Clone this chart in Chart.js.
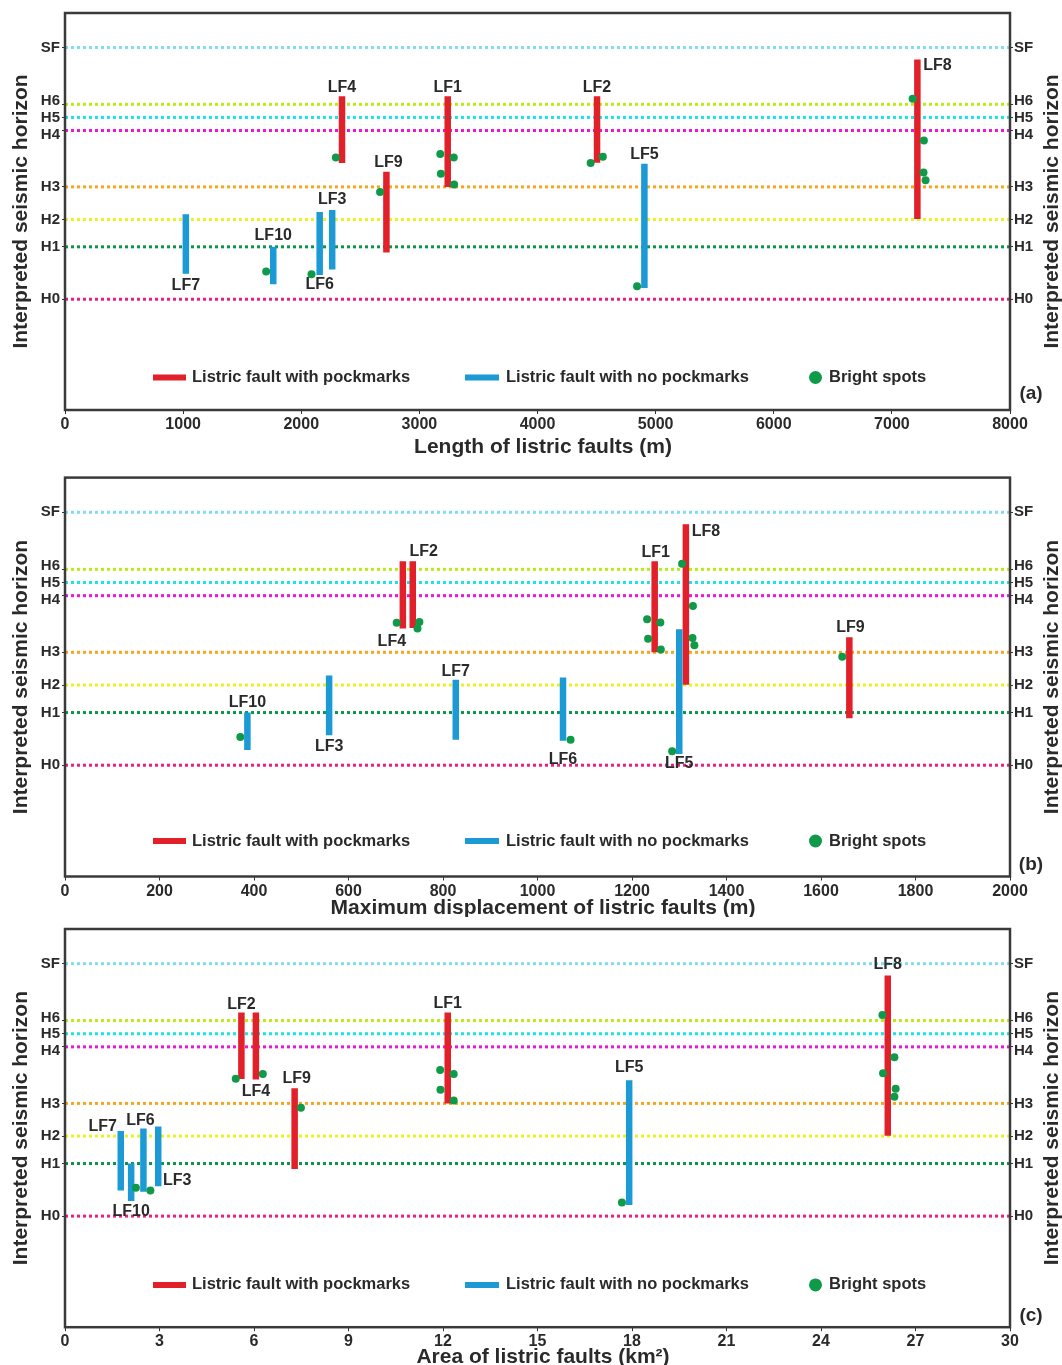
<!DOCTYPE html>
<html>
<head>
<meta charset="utf-8">
<title>Listric faults vs interpreted seismic horizons</title>
<script src="https://cdn.jsdelivr.net/npm/chart.js@4.4.1/dist/chart.umd.min.js"></script>
<style>
  html, body { margin: 0; padding: 0; background: #fff; }
  #wrap { position: relative; width: 1062px; height: 1365px; overflow: hidden; }
  #wrap canvas { position: absolute; left: 0; }
</style>
</head>
<body>
<div id="wrap">
  <canvas id="chartA" width="1062" height="462" style="top:0px;width:1062px;height:462px"></canvas>
  <canvas id="chartB" width="1062" height="455" style="top:462px;width:1062px;height:455px"></canvas>
  <canvas id="chartC" width="1062" height="448" style="top:917px;width:1062px;height:448px"></canvas>
</div>
<script>
// Horizons (relative depth position on the vertical axis, 0 = bottom, 100 = top)
const horizonNames = ['H0', 'H1', 'H2', 'H3', 'H4', 'H5', 'H6', 'SF'];
const horizonLevels = [27.9, 41.1, 48.0, 56.2, 70.4, 73.7, 77.0, 91.3];
const horizonColors = ['#ea1e83', '#0c9447', '#eef21c', '#f9a51c', '#ee14d9', '#19e3f0', '#b5ee10', '#80dcf3'];
// small vertical nudge (px) of the crowded H4/H5/H6 labels
const horizonLabelShift = [0, 0, 0, 0, 4, 0, -3, 0];

// Listric faults: vertical extent (same in all panels)
const faultNames = ['LF1', 'LF2', 'LF3', 'LF4', 'LF5', 'LF6', 'LF7', 'LF8', 'LF9', 'LF10'];
const faultHasPockmarks = [true, true, false, true, false, false, false, true, true, false];
const faultTop = [79.0, 79.0, 50.4, 79.0, 62.0, 49.9, 49.3, 88.3, 60.0, 41.1];
const faultBase = [56.2, 62.3, 35.4, 62.2, 30.7, 34.0, 34.3, 48.1, 39.7, 31.7];

// Fault size per panel
const lengthM = [3240, 4504, 2262, 2345, 4905, 2156, 1023, 7216, 2721, 1763];
const displacementM = [1248, 736, 559, 715, 1300, 1054, 827, 1314, 1660, 386];
const areaKm2 = [12.15, 5.60, 2.96, 6.06, 17.91, 2.49, 1.77, 26.12, 7.29, 2.10];

// Bright spots per panel
const spotsLengthX = [1703, 2087, 2293, 2667, 3177, 3291, 3182, 3294, 4450, 4553, 4843, 7176, 7271, 7268, 7285];
const spotsLengthY = [34.9, 34.2, 63.6, 54.9, 64.5, 63.6, 59.5, 56.8, 62.2, 63.8, 31.2, 78.4, 67.9, 59.8, 57.9];
const spotsDispX = [371, 1070, 702, 750, 746, 1645, 1232, 1260, 1234, 1261, 1285, 1306, 1329, 1328, 1332];
const spotsDispY = [35.0, 34.3, 63.6, 63.8, 62.2, 55.1, 64.5, 63.7, 59.6, 56.9, 31.4, 78.4, 67.8, 59.8, 58.0];
const spotsAreaX = [2.25, 2.71, 5.42, 6.28, 7.49, 11.91, 12.34, 11.92, 12.34, 17.68, 25.95, 26.33, 25.97, 26.37, 26.33];
const spotsAreaY = [35.0, 34.3, 62.4, 63.6, 55.1, 64.6, 63.6, 59.6, 56.9, 31.3, 78.4, 67.8, 63.8, 59.9, 57.9];

// Axis ranges
const lengthTicks = { max: 8000, step: 1000 };
const dispTicks = { max: 2000, step: 200 };
const areaTicks = { max: 30, step: 3 };

// Where each fault label sits: [end of bar, dx px, dy px]
const labelsA = [['top', 0, -9], ['top', 0, -9], ['top', 0, -10], ['top', 0, -9], ['top', 0, -9.5],
                 ['base', 0, 10], ['base', 0, 12], ['top', 20, 6], ['top', 2, -9.5], ['top', 0, -11]];
const labelsB = [['top', 1, -9], ['top', 11, -9.5], ['base', 0, 11.5], ['base', -11, 13.5], ['base', 0, 10],
                 ['base', 0, 19], ['top', 0, -8], ['top', 20, 7], ['top', 1, -10], ['top', 0, -9.5]];
const labelsC = [['top', 0, -9.5], ['top', 0, -8.5], ['base', 19, -5.5], ['base', 0, 12], ['top', 0, -13],
                 ['top', -3, -8], ['top', -18, -4.5], ['top', 0, -11], ['top', 2, -9.5], ['base', 0, 11]];

const RED = '#e2202a';
const BLUE = '#1b9ad6';
const GREEN = '#0e9a48';
const TEXT = '#2a2a2a';
const FONT = '"Liberation Sans", Arial, sans-serif';

Chart.defaults.font.family = FONT;
Chart.defaults.color = TEXT;

// Frame, horizon names, legend, fault labels and axis titles
const panelDecor = {
    id: 'panelDecor',
    afterDraw(chart, args, o) {
        const ctx = chart.ctx;
        const a = chart.chartArea;
        const xs = chart.scales.x;
        const ys = chart.scales.y;
        ctx.save();

        ctx.strokeStyle = '#3a3a3a';
        ctx.lineWidth = 2.5;
        ctx.strokeRect(a.left, a.top, a.right - a.left, a.bottom - a.top);

        // horizon names on both sides
        ctx.fillStyle = TEXT;
        ctx.textBaseline = 'middle';
        ctx.font = 'bold 15px ' + FONT;
        horizonNames.forEach((name, i) => {
            const py = ys.getPixelForValue(horizonLevels[i]) + horizonLabelShift[i];
            ctx.textAlign = 'right';
            ctx.fillText(name, a.left - 5, py);
            ctx.textAlign = 'left';
            ctx.fillText(name, a.right + 4, py);
        });

        // fault names
        ctx.font = 'bold 16px ' + FONT;
        ctx.textAlign = 'center';
        faultNames.forEach((name, i) => {
            const [end, dx, dy] = o.labels[i];
            const px = xs.getPixelForValue(o.xValues[i]);
            const py = ys.getPixelForValue(end === 'top' ? faultTop[i] : faultBase[i]);
            ctx.fillText(name, px + dx, py + dy);
        });

        // legend
        const ly = a.bottom - o.legendOffset;
        ctx.lineWidth = 6;
        ctx.lineCap = 'butt';
        ctx.strokeStyle = RED;
        ctx.beginPath(); ctx.moveTo(153, ly); ctx.lineTo(186, ly); ctx.stroke();
        ctx.strokeStyle = BLUE;
        ctx.beginPath(); ctx.moveTo(465, ly); ctx.lineTo(499, ly); ctx.stroke();
        ctx.fillStyle = GREEN;
        ctx.beginPath(); ctx.arc(815.5, ly, 6.5, 0, Math.PI * 2); ctx.fill();
        ctx.fillStyle = TEXT;
        ctx.font = 'bold 16.5px ' + FONT;
        ctx.textAlign = 'left';
        ctx.fillText('Listric fault with pockmarks', 192, ly);
        ctx.fillText('Listric fault with no pockmarks', 506, ly);
        ctx.fillText('Bright spots', 829, ly);

        // panel tag
        ctx.font = 'bold 19px ' + FONT;
        ctx.textAlign = 'center';
        ctx.fillText(o.tag, 1031, a.bottom - o.tagOffset);

        // x title
        ctx.font = 'bold 21px ' + FONT;
        ctx.fillText(o.title, 543, a.bottom + o.titleOffset);

        // y titles, left and right
        const midY = (a.top + a.bottom) / 2;
        [21, 1052.5].forEach(tx => {
            ctx.save();
            ctx.translate(tx, midY);
            ctx.rotate(-Math.PI / 2);
            ctx.fillText('Interpreted seismic horizon', 0, 0);
            ctx.restore();
        });

        ctx.restore();
    }
};

function buildDatasets(xValues, xMax, spotX, spotY) {
    const sets = [];
    horizonLevels.forEach((lv, i) => {
        sets.push({
            label: horizonNames[i],
            data: [{ x: 0, y: lv }, { x: xMax, y: lv }],
            showLine: true,
            borderColor: horizonColors[i],
            borderWidth: 3,
            borderDash: [3, 3],
            pointRadius: 0,
            order: 2
        });
    });
    faultNames.forEach((name, i) => {
        sets.push({
            label: name,
            data: [{ x: xValues[i], y: faultTop[i] }, { x: xValues[i], y: faultBase[i] }],
            showLine: true,
            borderColor: faultHasPockmarks[i] ? RED : BLUE,
            borderWidth: 6.5,
            borderCapStyle: 'butt',
            pointRadius: 0,
            order: 1
        });
    });
    sets.push({
        label: 'Bright spots',
        data: spotX.map((x, i) => ({ x: x, y: spotY[i] })),
        pointRadius: 4,
        pointBackgroundColor: GREEN,
        pointBorderWidth: 0,
        order: 0
    });
    return sets;
}

function horizonTicks(scale) {
    scale.ticks = horizonLevels.map(v => ({ value: v }));
}

function makePanel(cfg) {
    // tick marks only; the horizon names are drawn by panelDecor
    const yAxis = (pos, width) => ({
        type: 'linear',
        position: pos,
        min: 0,
        max: 100,
        afterBuildTicks: horizonTicks,
        afterFit: s => { s.width = width; },
        border: { display: false },
        grid: { drawOnChartArea: false, tickLength: 3, color: '#333' },
        ticks: { display: false }
    });

    return new Chart(document.getElementById(cfg.canvas), {
        type: 'scatter',
        data: { datasets: buildDatasets(cfg.xValues, cfg.axis.max, cfg.spotX, cfg.spotY) },
        options: {
            responsive: false,
            animation: false,
            devicePixelRatio: 1,
            layout: { padding: { top: cfg.plotTop, left: 0, right: 0, bottom: 0 } },
            plugins: {
                legend: { display: false },
                tooltip: { enabled: false },
                panelDecor: {
                    labels: cfg.labels,
                    xValues: cfg.xValues,
                    title: cfg.title,
                    tag: cfg.tag,
                    legendOffset: cfg.legendOffset,
                    tagOffset: cfg.tagOffset,
                    titleOffset: cfg.titleOffset
                }
            },
            scales: {
                x: {
                    type: 'linear',
                    min: 0,
                    max: cfg.axis.max,
                    afterFit: s => { s.height = cfg.canvasH - cfg.plotBottom; },
                    border: { display: false },
                    grid: { drawOnChartArea: false, tickLength: 4, color: '#333' },
                    ticks: {
                        stepSize: cfg.axis.step,
                        font: { size: 16, weight: 'bold' },
                        color: TEXT,
                        padding: 1,
                        autoSkip: false,
                        maxRotation: 0,
                        callback: v => String(v)
                    }
                },
                y: yAxis('left', 65),
                y2: yAxis('right', 52)
            }
        },
        plugins: [panelDecor]
    });
}

makePanel({
    canvas: 'chartA', canvasH: 462, plotTop: 13, plotBottom: 410,
    xValues: lengthM, axis: lengthTicks, spotX: spotsLengthX, spotY: spotsLengthY,
    labels: labelsA, title: 'Length of listric faults (m)', tag: '(a)',
    legendOffset: 32.5, tagOffset: 16, titleOffset: 37
});

makePanel({
    canvas: 'chartB', canvasH: 455, plotTop: 15.6, plotBottom: 414.5,
    xValues: displacementM, axis: dispTicks, spotX: spotsDispX, spotY: spotsDispY,
    labels: labelsB, title: 'Maximum displacement of listric faults (m)', tag: '(b)',
    legendOffset: 35.5, tagOffset: 12, titleOffset: 32
});

makePanel({
    canvas: 'chartC', canvasH: 448, plotTop: 12, plotBottom: 410.2,
    xValues: areaKm2, axis: areaTicks, spotX: spotsAreaX, spotY: spotsAreaY,
    labels: labelsC, title: 'Area of listric faults (km\u00B2)', tag: '(c)',
    legendOffset: 42.3, tagOffset: 11, titleOffset: 30
});
</script>
</body>
</html>
